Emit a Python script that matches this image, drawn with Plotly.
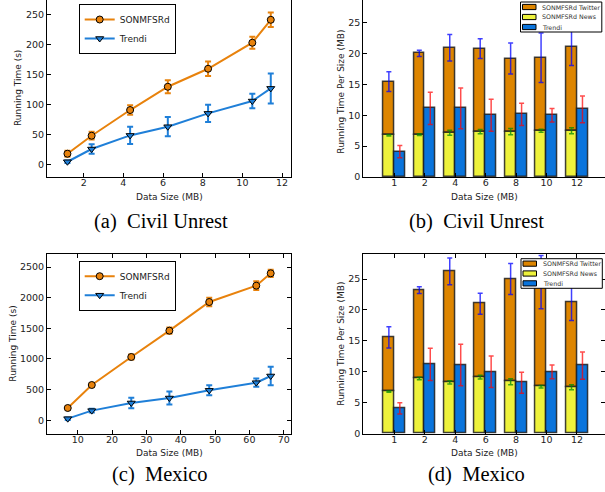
import plotly.graph_objects as go

# ---------------- data: (a) Civil Unrest, running time ----------------
cu_size_s = [1.18, 2.40, 4.34, 6.24, 8.27, 10.50, 11.43]
cu_sonmf = [17.8, 47.8, 90.6, 129.4, 159.4, 202.8, 241.0]
cu_sonmf_err = [5, 6.5, 8, 11, 12, 10, 12]
cu_trendi = [4.4, 25.6, 48.3, 62.8, 85.0, 105.6, 126.7]
cu_trendi_err = [2, 8, 14.5, 16, 14.5, 12, 25]

# ---------------- data: (c) Mexico, running time ----------------
mx_size_s = [7.1, 14.1, 25.6, 36.7, 48.3, 62.0, 66.2]
mx_sonmf = [201, 576, 1033, 1462, 1929, 2196, 2397]
mx_sonmf_err = [30, 30, 40, 50, 70, 70, 60]
mx_trendi = [27, 158, 283, 364, 489, 614, 723]
mx_trendi_err = [20, 30, 87, 106, 82, 68, 150]

# ---------------- data: (b)/(d) running time per size ----------------
size_labels = ["1", "2", "4", "6", "8", "10", "12"]
bar_series = ["SONMFSRd Twitter", "SONMFSRd News", "Trendi"]

cu_news = [6.75, 6.86, 7.18, 7.34, 7.34, 7.50, 7.50]
cu_news_err = [0.1, 0.15, 0.4, 0.35, 0.5, 0.25, 0.5]
cu_total = [15.44, 20.03, 20.95, 20.80, 19.20, 19.33, 21.06]
cu_total_err = [1.6, 0.5, 2.15, 1.6, 2.5, 4.0, 3.0]
cu_trendi_ps = [4.1, 11.12, 11.12, 10.0, 10.15, 10.0, 10.96]
cu_trendi_ps_err = [1.0, 2.6, 3.3, 2.6, 1.8, 1.1, 2.15]

mx_news = [6.79, 8.94, 8.30, 9.16, 8.40, 7.60, 7.50]
mx_news_err = [0.1, 0.2, 0.25, 0.3, 0.5, 0.2, 0.4]
mx_total = [15.57, 23.22, 26.24, 21.0, 25.0, 24.5, 21.2]
mx_total_err = [1.7, 0.55, 2.15, 1.7, 2.5, 4.3, 2.9]
mx_trendi_ps = [4.09, 11.2, 11.1, 10.0, 8.24, 10.0, 11.0]
mx_trendi_ps_err = [0.9, 2.6, 3.35, 2.55, 1.7, 1.1, 2.2]

x_title = "Data Size (MB)"
y_title_line = "Running Time (s)"
y_title_bar = "Running Time Per Size (MB)"

# ---------------- styles ----------------
ORANGE = "#e8820c"
BLUE = "#1f7fd8"
BAR_OR = "#dd8500"
BAR_YE = "#eef23c"
BAR_BL = "#0a74dc"
BAR_COLORS = [BAR_OR, BAR_YE, BAR_BL]
EDGE = "rgba(30,30,30,0.85)"
FONT = "DejaVu Sans"
TXT = "#222"
W, H = 605, 492

fig = go.Figure()


def line_panel(xs, s, se, t, te, xa, ya, leg):
    fig.add_trace(go.Scatter(
        x=xs, y=s, name="SONMFSRd", mode="lines+markers",
        line=dict(color=ORANGE, width=2),
        marker=dict(symbol="circle", size=7, color=ORANGE,
                    line=dict(color="black", width=1)),
        error_y=dict(type="data", array=se, color=ORANGE, thickness=2, width=3),
        xaxis=xa, yaxis=ya, legend=leg))
    fig.add_trace(go.Scatter(
        x=xs, y=t, name="Trendi", mode="lines+markers",
        line=dict(color=BLUE, width=2),
        marker=dict(symbol="triangle-down", size=7, color=BLUE,
                    line=dict(color="black", width=1)),
        error_y=dict(type="data", array=te, color=BLUE, thickness=2, width=3),
        xaxis=xa, yaxis=ya, legend=leg))


def bar_panel(news, news_e, total, total_e, tr, tr_e, xa, ya):
    idx = list(range(len(size_labels)))
    xl = [i - 0.18 for i in idx]
    xr = [i + 0.18 for i in idx]
    twitter = [tt - n for tt, n in zip(total, news)]
    edge = dict(color=EDGE, width=1.5)
    fig.add_trace(go.Bar(x=xl, y=twitter, base=news, width=0.36,
                         name=bar_series[0], marker=dict(color=BAR_OR, line=edge),
                         xaxis=xa, yaxis=ya, showlegend=False))
    fig.add_trace(go.Bar(x=xl, y=news, width=0.36,
                         name=bar_series[1], marker=dict(color=BAR_YE, line=edge),
                         xaxis=xa, yaxis=ya, showlegend=False))
    fig.add_trace(go.Bar(x=xr, y=tr, width=0.36,
                         name=bar_series[2], marker=dict(color=BAR_BL, line=edge),
                         xaxis=xa, yaxis=ya, showlegend=False))
    for xs, ys, es, col in [(xl, total, total_e, "rgba(0,0,255,0.75)"),
                            (xl, news, news_e, "rgba(0,140,0,0.75)"),
                            (xr, tr, tr_e, "rgba(255,0,0,0.7)")]:
        fig.add_trace(go.Scatter(
            x=xs, y=ys, mode="markers", marker=dict(size=2, opacity=0),
            error_y=dict(type="data", array=es, color=col, thickness=1.5, width=2.5),
            showlegend=False, hoverinfo="skip", xaxis=xa, yaxis=ya))


def bar_legend(left, top, right, bottom):
    # compact legend box (matplotlib-style) for the bar panels
    fig.add_shape(type="rect", xref="paper", yref="paper",
                  x0=left / W, x1=right / W, y0=1 - bottom / H, y1=1 - top / H,
                  fillcolor="white", line=dict(color="black", width=1), layer="above")
    row_h = (bottom - top) / len(bar_series)
    for k, (name, col) in enumerate(zip(bar_series, BAR_COLORS)):
        cy = top + row_h * (k + 0.5)
        fig.add_shape(type="rect", xref="paper", yref="paper",
                      x0=(left + 2) / W, x1=(left + 15.5) / W,
                      y0=1 - (cy + 2.6) / H, y1=1 - (cy - 2.6) / H,
                      fillcolor=col, line=dict(color="black", width=1), layer="above")
        fig.add_annotation(text=name, x=(left + 19.5) / W, y=1 - cy / H,
                           xref="paper", yref="paper", xanchor="left", yanchor="middle",
                           showarrow=False, font=dict(family=FONT, size=6.3, color="#333"))


def text(t, cx, cy, size=9, angle=0, family=FONT, color=TXT):
    fig.add_annotation(text=t, x=cx / W, y=1 - cy / H, xref="paper", yref="paper",
                       xanchor="center", yanchor="middle", showarrow=False, textangle=angle,
                       font=dict(family=family, size=size, color=color))


line_panel(cu_size_s, cu_sonmf, cu_sonmf_err, cu_trendi, cu_trendi_err, "x", "y", "legend")
bar_panel(cu_news, cu_news_err, cu_total, cu_total_err, cu_trendi_ps, cu_trendi_ps_err, "x2", "y2")
line_panel(mx_size_s, mx_sonmf, mx_sonmf_err, mx_trendi, mx_trendi_err, "x3", "y3", "legend3")
bar_panel(mx_news, mx_news_err, mx_total, mx_total_err, mx_trendi_ps, mx_trendi_ps_err, "x4", "y4")
bar_legend(520.5, 2, 601.8, 32)
bar_legend(521, 258.7, 602.3, 288.3)


def px_x(a, b):
    return [a / W, min(b / W, 1.0)]


def px_y(top, bot):
    return [1 - bot / H, min(1 - top / H, 1.0)]


def ax(domain, rng, anchor, mirror, lshift, tickvals=None, ticktext=None, dtick=None):
    d = dict(domain=domain, range=rng, anchor=anchor, showline=True, linecolor="black",
             linewidth=1, mirror=mirror, ticks="inside", ticklen=4, tickwidth=1,
             tickcolor="black", showgrid=False, zeroline=False,
             tickfont=dict(family=FONT, size=9.5, color=TXT),
             ticklabelstandoff=lshift, automargin=False)
    if tickvals is not None:
        d["tickmode"] = "array"
        d["tickvals"] = tickvals
        d["ticktext"] = ticktext
    if dtick is not None:
        d["dtick"] = dtick
        d["tick0"] = 0
    return d


bar_idx = list(range(len(size_labels)))

fig.update_layout(
    width=W, height=H, margin=dict(l=0, r=0, t=0, b=0),
    paper_bgcolor="white", plot_bgcolor="white",
    barmode="overlay", bargap=0,
    font=dict(family=FONT, size=9, color=TXT),
    xaxis=ax(px_x(47, 291), [0.15, 12.45], "y", False, -3, dtick=2),
    yaxis=ax(px_y(0, 177), [-21, 274], "x", True, 0, dtick=50),
    xaxis2=ax(px_x(363.3, 605), [-1.02, 6.92], "y2", False, -3,
              tickvals=bar_idx, ticktext=size_labels),
    yaxis2=ax(px_y(0, 177), [0, 28.68], "x2", True, 0, dtick=5),
    xaxis3=ax(px_x(47, 291.3), [1.06, 72.2], "y3", "ticks", -3, dtick=10),
    yaxis3=ax(px_y(254, 434), [-223, 2712], "x3", "ticks", 0, dtick=500),
    xaxis4=ax(px_x(363.3, 605), [-1.02, 6.92], "y4", "ticks", -3,
              tickvals=bar_idx, ticktext=size_labels),
    yaxis4=ax(px_y(254.3, 433.7), [0, 29.0], "x4", "ticks", 0, dtick=5),
)

leg_common = dict(bgcolor="white", bordercolor="black", borderwidth=1,
                  xanchor="left", yanchor="top", tracegroupgap=0, itemwidth=30)
fig.update_layout(
    legend=dict(x=78.7 / W, y=1 - 4 / H, font=dict(family=FONT, size=9, color=TXT), **leg_common),
    legend3=dict(x=78.7 / W, y=1 - 260.7 / H, font=dict(family=FONT, size=9, color=TXT), **leg_common),
)

# axis titles
text(x_title, 169, 197)
text(x_title, 484, 197)
text(x_title, 169, 453)
text(x_title, 484, 453)
text(y_title_line, 18, 88, angle=-90)
text(y_title_bar, 340.7, 92, angle=-90)
text(y_title_line, 12.7, 344, angle=-90)
text(y_title_bar, 340.7, 344, angle=-90)

# sub-figure captions
captions = [("(a)\u00a0 Civil Unrest", 161, 222), ("(b)\u00a0 Civil Unrest", 477, 222),
            ("(c)\u00a0 Mexico", 160, 474), ("(d)\u00a0 Mexico", 477, 474)]
for txt, cx, cy in captions:
    text(txt, cx, cy, size=20.5, family="Liberation Serif", color="black")

fig.write_html("out.html", config={"displayModeBar": False},
               post_script="document.body.style.margin='0';document.body.style.overflow='hidden';")
